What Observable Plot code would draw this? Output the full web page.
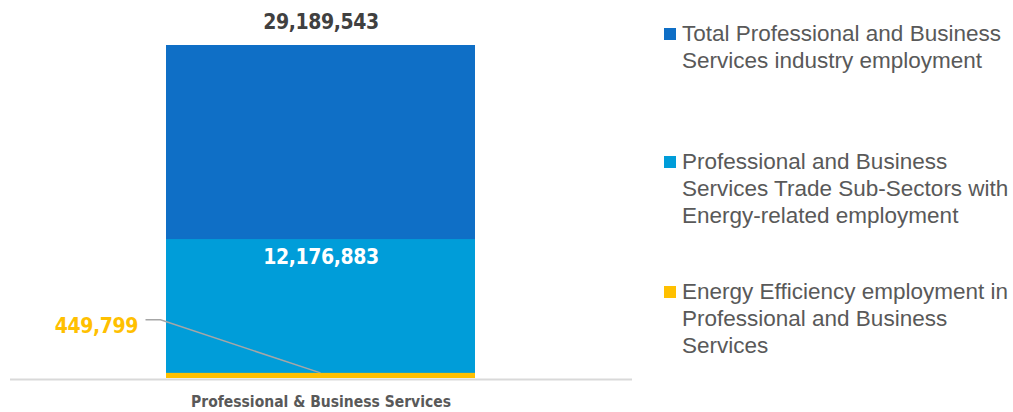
<!DOCTYPE html>
<html>
<head>
<meta charset="utf-8">
<script src="https://cdn.jsdelivr.net/npm/d3@7"></script>
<script src="https://cdn.jsdelivr.net/npm/@observablehq/plot@0.6"></script>
<style>
  body { margin: 0; background: #fff; }
  #wrap { position: relative; width: 1013px; height: 412px; overflow: hidden; }
  #chart { position: absolute; left: 0; top: 0; }
  .item { position: absolute; left: 664px; font-family: "Liberation Sans", Arial, sans-serif; font-size: 22.5px; line-height: 27px; color: #595959; }
  .item .sw { position: absolute; left: 0; top: 8px; width: 12px; height: 12px; }
  .item .tx { margin-left: 18px; white-space: nowrap; }
</style>
</head>
<body>
<div id="wrap">
  <div id="chart"></div>
</div>
<script>
// ---- data ----
const categories = ["Professional & Business Services"];
const seriesNames = [
  "Total Professional and Business Services industry employment",
  "Professional and Business Services Trade Sub-Sectors with Energy-related employment",
  "Energy Efficiency employment in Professional and Business Services"
];
const legendLines = [
  ["Total Professional and Business", "Services industry employment"],
  ["Professional and Business", "Services Trade Sub-Sectors with", "Energy-related employment"],
  ["Energy Efficiency employment in", "Professional and Business", "Services"]
];
const values = [29189543, 12176883, 449799];
const colors = ["#0F6FC6", "#009DD9", "#FFC000"];

const rows = values.map((v, i) => ({category: categories[0], series: seriesNames[i], value: v, color: colors[i]}));
const fmt = d3.format(",");
const numFont = '"DejaVu Sans Condensed", "Liberation Sans Narrow", "Roboto", sans-serif';

// leader line from the small value's label to its bar
function leader(index, scales) {
  const xs = scales.x, ys = scales.y;
  const bw = typeof xs.bandwidth === "function" ? xs.bandwidth() : (xs.bandwidth || 0);
  const cx = xs(categories[0]) + bw / 2;
  const cy = ys(values[2]);
  const g = d3.create("svg:g");
  g.append("path")
    .attr("d", `M${cx - 175},${cy - 53}L${cx - 160},${cy - 53}L${cx},${cy}`)
    .attr("fill", "none")
    .attr("stroke", "#A6A6A6")
    .attr("stroke-width", 1.5);
  return g.node();
}

const chart = Plot.plot({
  width: 640,
  height: 412,
  marginLeft: 10,
  marginRight: 8,
  marginTop: 45,
  marginBottom: 34,
  x: {domain: categories, padding: 0.335, axis: null},
  y: {domain: [0, values[0]], axis: null},
  marks: [
    Plot.ruleY([0], {stroke: "#D9D9D9", strokeWidth: 2, dy: 1}),
    Plot.barY(rows, {x: "category", y1: 0, y2: "value", fill: "color"}),
    Plot.axisX({tickSize: 0, tickPadding: 17, fontSize: 15.5, fontWeight: "bold", fontFamily: numFont, fill: "#595959", label: null}),
    Plot.text([rows[0]], {x: "category", y: "value", text: d => fmt(d.value), dy: -23, fill: "#404040", fontSize: 21, fontWeight: "bold", fontFamily: numFont, className: "num"}),
    Plot.text([rows[1]], {x: "category", y: "value", text: d => fmt(d.value), dy: 18, fill: "#FFFFFF", fontSize: 21, fontWeight: "bold", fontFamily: numFont, className: "num"}),
    Plot.text([rows[2]], {x: "category", y: "value", text: d => fmt(d.value), dx: -183, dy: -47, textAnchor: "end", fill: "#FFC000", fontSize: 21, fontWeight: "bold", fontFamily: numFont, className: "num"}),
    leader
  ]
});
document.getElementById("chart").appendChild(chart);
chart.querySelectorAll("g.num text, text.num").forEach(t => t.style.letterSpacing = "-0.4px");

// legend
const legendTops = [20, 148, 278];
const wrap = document.getElementById("wrap");
legendLines.forEach((lines, i) => {
  const item = document.createElement("div");
  item.className = "item";
  item.style.top = legendTops[i] + "px";
  const sw = document.createElement("div");
  sw.className = "sw";
  sw.style.background = colors[i];
  const tx = document.createElement("div");
  tx.className = "tx";
  tx.innerHTML = lines.map(l => l.replace(/&/g, "&amp;")).join("<br>");
  item.appendChild(sw);
  item.appendChild(tx);
  wrap.appendChild(item);
});
</script>
</body>
</html>
